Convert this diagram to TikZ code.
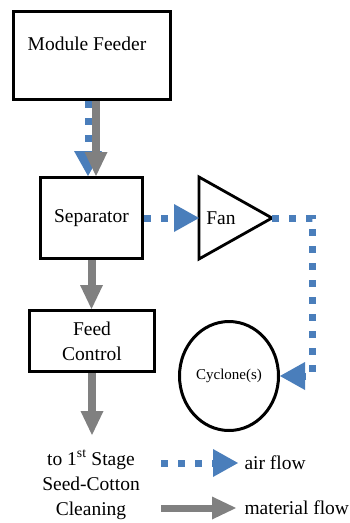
\documentclass[tikz,border=0pt]{standalone}
\usepackage{fontspec}
\setmainfont{Liberation Serif}
\usepackage{tikz}
\usetikzlibrary{
    arrows.meta,
    positioning,
    shapes.geometric,
}
\definecolor{airblue}{RGB}{74,126,187}
\definecolor{flowgray}{RGB}{128,128,128}
\tikzset{
    block/.style={draw=black, line width=3pt, inner sep=0pt, align=center},
    airflow/.style={draw=airblue, line width=7pt, dash pattern=on 7pt off 10pt,
        -{Triangle[width=28pt, length=25pt, line width=0pt, fill=airblue]}},
    matflow/.style={draw=flowgray, line width=8pt,
        -{Triangle[width=23pt, length=24pt, line width=0pt, fill=flowgray]}},
}
\begin{document}
\begin{tikzpicture}[x=1pt, y=-1pt, font=\fontsize{19.5}{25}\selectfont]
    \useasboundingbox (0,0) rectangle (350,523);
    % boxes
    \node[block, minimum width=157pt, minimum height=88pt] (feeder) at (92,55.5) {};
    \node (feedertxt) at (87,44) {Module Feeder};
    \node[block, minimum width=102pt, minimum height=81pt] (sep) at (91.5,218) {Separator};
    \node[block, minimum width=125pt, minimum height=61pt] (feed) at (92,341) {Feed\\Control};
    \node[draw=black, ellipse, line width=3pt, inner sep=0pt, minimum width=99pt, minimum height=109pt,
        font=\fontsize{15}{18}\selectfont] (cyc) at (229,376) {Cyclone(s)};
    \node[align=center] (out) at (91,485) {to 1\textsuperscript{st} Stage\\Seed-Cotton\\Cleaning};
    % fan
    \coordinate (fanA) at (199,177);
    \coordinate (fanB) at (199,259);
    \coordinate (fanout) at (272,218);
    \coordinate (fanin) at (199,218);
    \draw[line width=2.8pt] (fanA) -- (fanout) -- (fanB) -- cycle;
    \node (fan) at (221,218) {Fan};
    % air flow
    \coordinate (corner) at (312,218);
    \draw[airflow] ([xshift=-4pt]feeder.south) -- ([xshift=-3.5pt]sep.north);
    \draw[airflow] (sep.east) -- (fanin);
    \draw[airflow] (fanout) -- (corner) |- (cyc.east);
    % material flow
    \draw[matflow] ([xshift=4pt]feeder.south) -- ([xshift=4.5pt]sep.north);
    \draw[matflow] (sep.south) -- (sep.south |- feed.north);
    \draw[matflow] (feed.south) -- ++(0,62);
    % legend
    \coordinate (airA) at (161,463);
    \coordinate (airB) at (238,463);
    \coordinate (matA) at (161,508);
    \coordinate (matB) at (236,508);
    \draw[airflow] (airA) -- (airB);
    \draw[matflow, line width=7pt] (matA) -- (matB);
    \node[anchor=west] (airtxt) at (241,463) {air flow};
    \node[anchor=west] (mattxt) at (241,508) {material flow};
\end{tikzpicture}
\end{document}
